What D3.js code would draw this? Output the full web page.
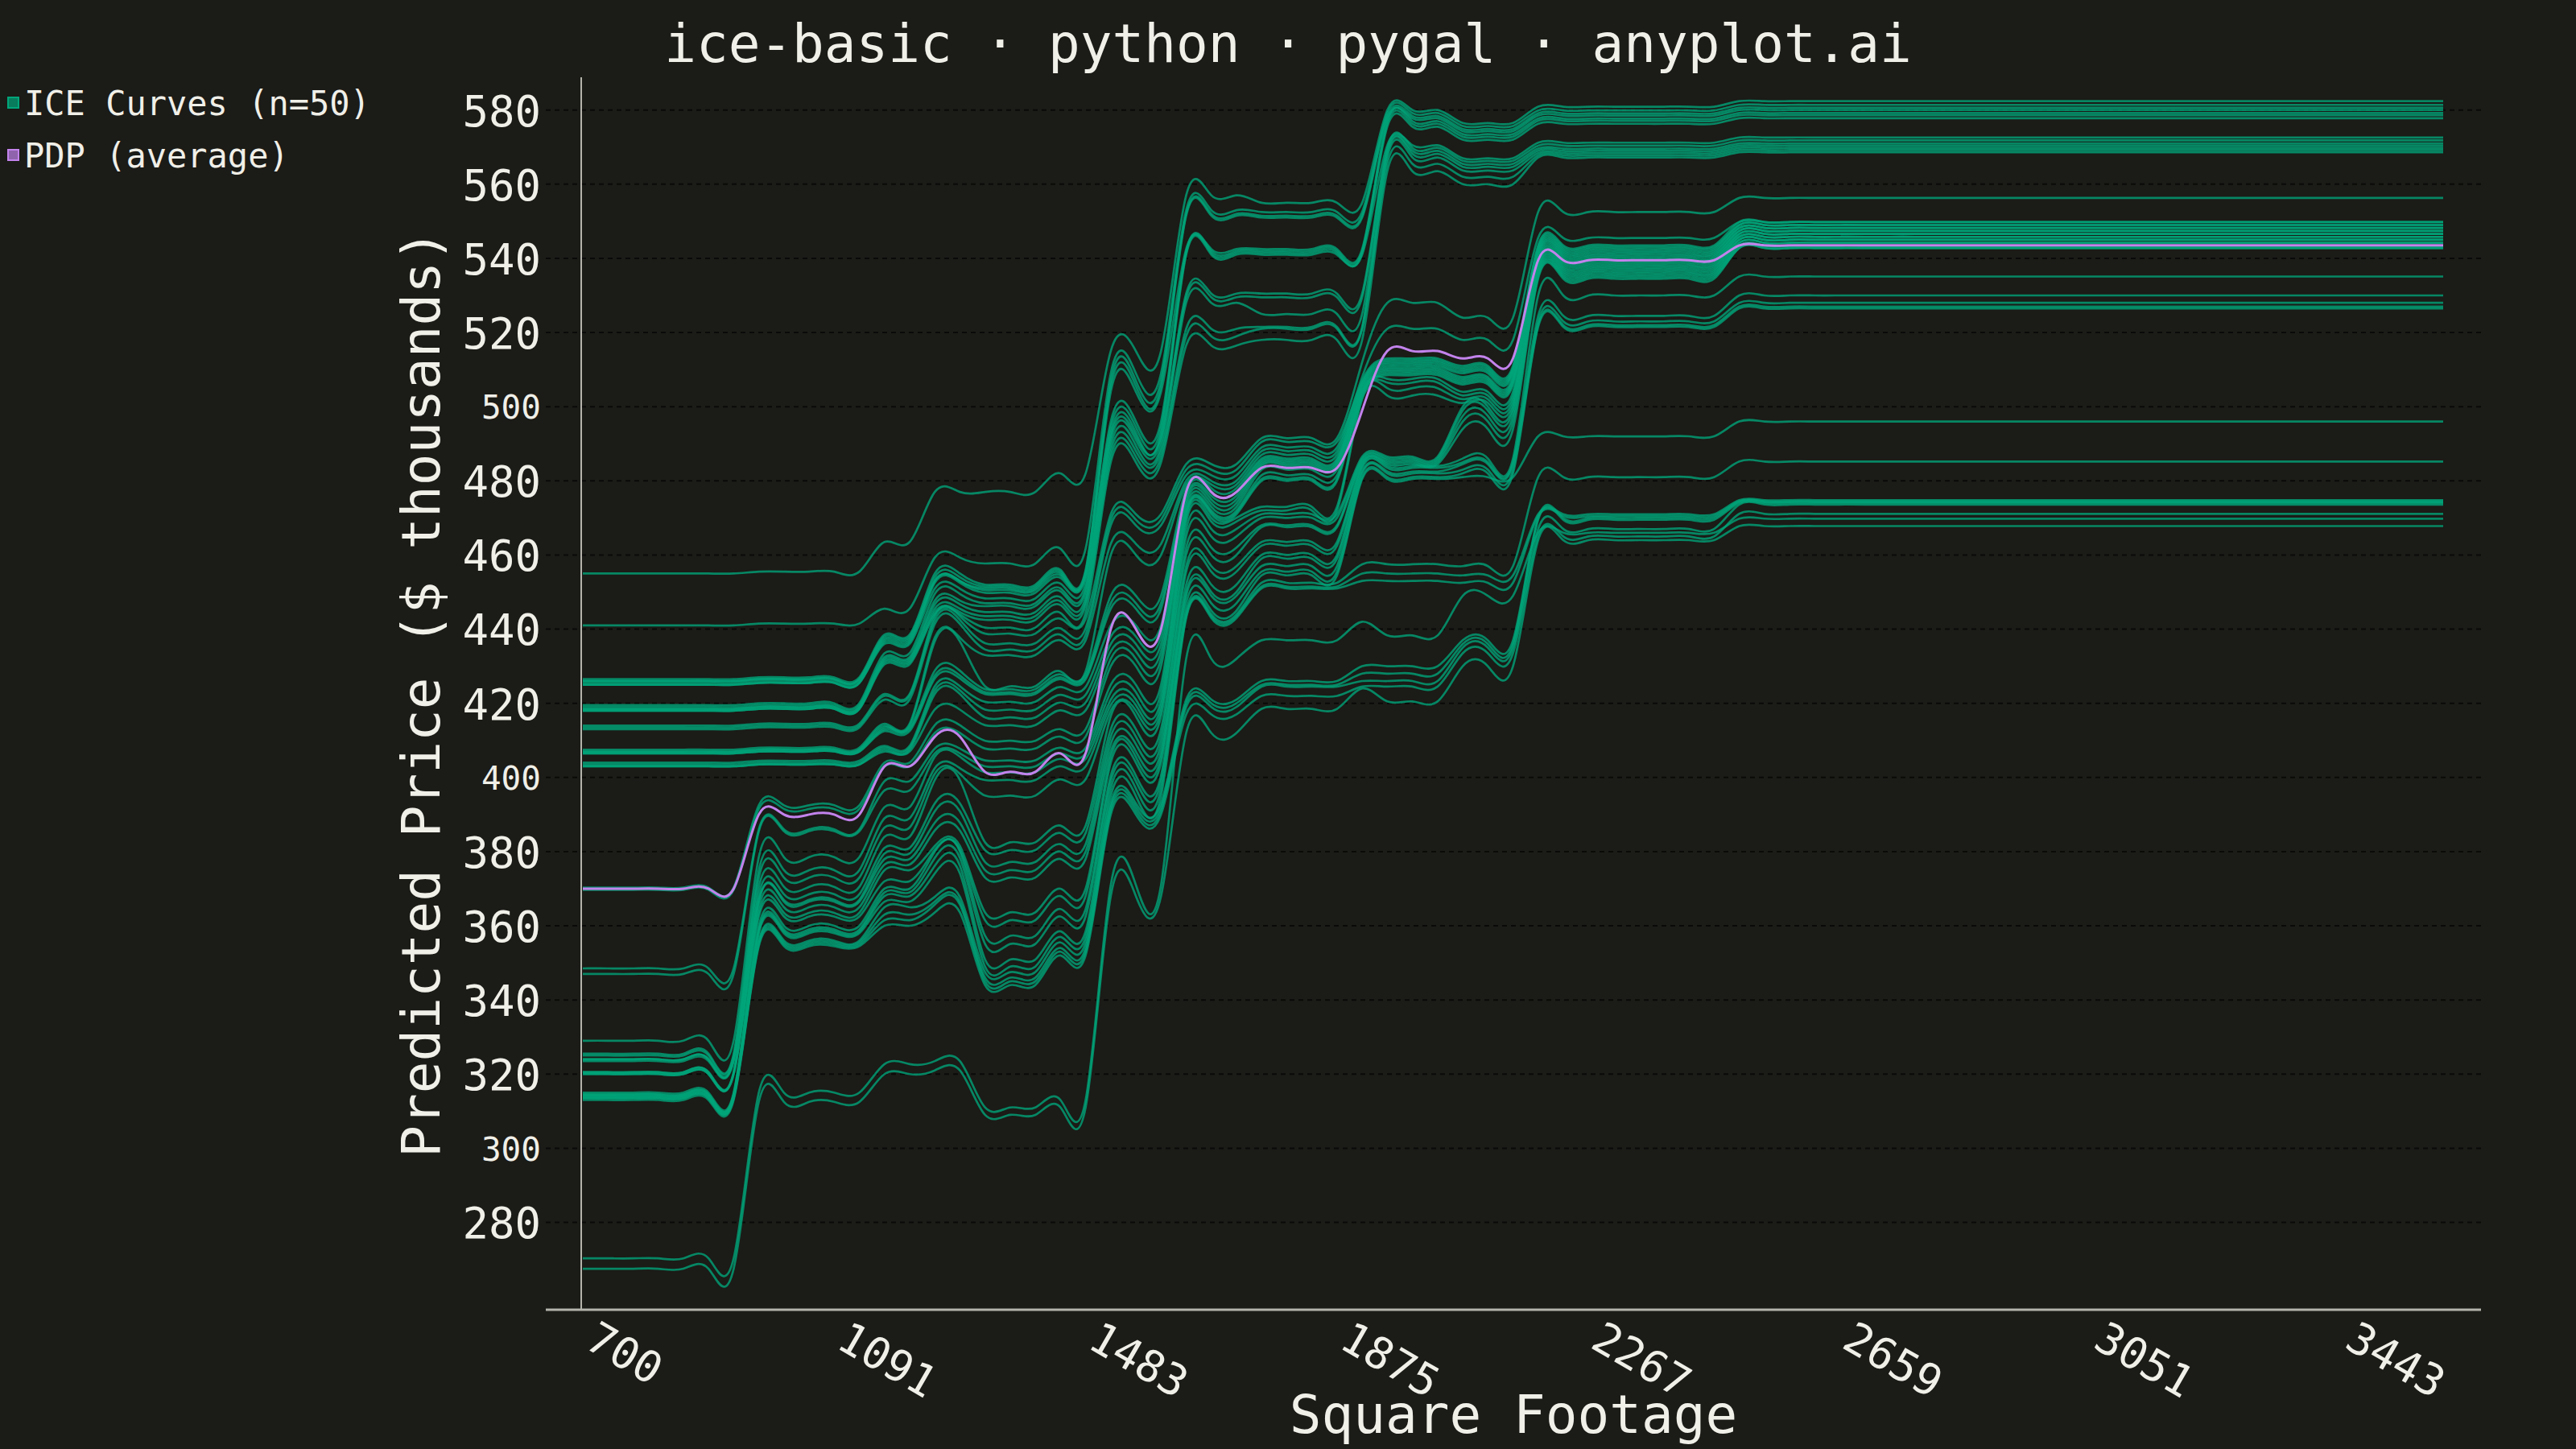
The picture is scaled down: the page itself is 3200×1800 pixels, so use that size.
<!DOCTYPE html>
<html>
<head>
  <meta charset="utf-8">
  <title>ice-basic · python · pygal · anyplot.ai</title>
  <script src="https://cdn.jsdelivr.net/npm/d3@7/dist/d3.min.js"></script>
  <style>
    html, body { margin: 0; padding: 0; background: #1b1b17; }
    svg { display: block; }
  </style>
</head>
<body>
  <svg width="3200" height="1800"></svg>
  <script>
    // evaluation grid: 75 square-footage points (700 .. 3600)
    const nGrid = 75;
    // first grid index of each flat segment of the tree model's ICE output
    const segStart = [0, 7, 12, 14, 16, 19, 21, 24, 27, 31, 32, 35, 38, 46];

    const xTickIndex = [0, 10, 20, 30, 40, 50, 60, 70];
    const xTickLabels = ['700', '1091', '1483', '1875', '2267', '2659', '3051', '3443'];
    const yTicks = [280, 300, 320, 340, 360, 380, 400, 420, 440, 460, 480, 500, 520, 540, 560, 580];
    const ySmallTicks = [300, 400, 500];

    const legendLabels = ['ICE Curves (n=50)', 'PDP (average)'];

    // predicted price ($ thousands) of each ICE curve, one value per segment
    const iceLevels = [
      [455, 455.5, 463.5, 477, 477, 482, 515, 557, 555, 555, 580, 576.5, 580.9, 582.4],
      [441, 441.5, 445.5, 459.3, 457.7, 461.7, 509, 553, 552.5, 552.5, 579.2, 575.7, 579.9, 581.4],
      [426.5, 427, 438.5, 455, 452, 456, 507, 552, 551.5, 551.5, 578.4, 574.9, 579.1, 580.6],
      [426, 426.5, 438, 454, 451.5, 455.5, 505.5, 551.5, 551, 551, 577.8, 574.3, 578.5, 580.0],
      [426, 426.5, 437.5, 453, 451, 455, 504, 542.5, 542.5, 542.5, 577, 573.5, 577.7, 579.2],
      [425.5, 426, 437, 453, 450.5, 454.5, 496, 542, 542, 542, 576.3, 572.8, 577.1, 578.6],
      [425, 425.5, 436.5, 452.5, 449.8, 453.8, 494.5, 541.5, 541.5, 541.5, 575.5, 572, 576.3, 577.8],
      [425, 425.5, 436, 450.9, 448.3, 452.3, 493, 541, 541, 541, 570.5, 567, 571.2, 572.6],
      [419.5, 420, 433.5, 449.5, 447, 451, 492, 530.5, 530.5, 530.5, 569.8, 566.3, 570.4, 571.8],
      [419, 419.5, 432.5, 447.7, 446.2, 450.2, 491, 529.5, 529.5, 529.5, 569, 565.5, 569.6, 571.0],
      [418.5, 419, 432, 446.7, 444.6, 448.6, 489.5, 528, 525, 525, 568.2, 564.7, 569, 570.4],
      [418.5, 419, 431.5, 445.5, 443.5, 447.5, 488, 521, 521.5, 521.5, 567.2, 563.7, 568.4, 569.8],
      [418, 418.5, 431, 444.6, 442.5, 446.5, 486.5, 519, 521, 521, 565.5, 562, 567.8, 569.2],
      [418, 418.5, 430.5, 444, 440.4, 444.4, 485, 516.5, 518, 518, 563.5, 560, 567.2, 568.6],
      [414, 414.5, 422.5, 443.5, 438.8, 442.8, 471, 484.5, 491.5, 512, 528, 524, 552.5, 556.3],
      [413.5, 414, 422, 442.5, 436.2, 440.2, 469.5, 483, 490.5, 508, 521, 518, 545.5, 549.8],
      [413, 413.5, 421, 441.4, 434.5, 438.5, 468, 481.5, 489, 507, 513, 511, 543.5, 549.8],
      [407.5, 408, 414.5, 437.7, 433, 437, 463, 480, 488, 506.5, 512.5, 510.5, 543, 549.0],
      [407, 407.5, 414, 436.7, 424.6, 428.6, 460, 479, 487, 506, 512, 510, 542.5, 549.0],
      [407, 407.5, 413.5, 428.8, 423.8, 427.8, 449, 478, 486, 505.5, 511.5, 509.5, 542, 548.2],
      [406.5, 407, 413, 427.5, 423, 427, 447, 477, 485.5, 505, 511, 509, 541.5, 548.2],
      [406.5, 407, 412.5, 426.7, 422.5, 426.5, 445.5, 476, 485, 504.5, 510.5, 508, 541, 547.4],
      [404, 404.5, 408.5, 424.6, 420.4, 424.4, 441, 475, 484.5, 504, 510, 507.5, 540.5, 547.4],
      [403.5, 404, 408, 423.5, 418.3, 422.3, 438, 474, 484, 503.5, 509.5, 507, 540, 546.6],
      [403, 403.5, 407.5, 422.5, 416.2, 420.2, 436, 473, 483, 503, 509, 506.5, 539.5, 546.6],
      [403, 403.5, 407, 418.3, 414.1, 418.1, 434, 472, 481.5, 502.5, 508.5, 506, 539, 545.8],
      [370.3, 392.5, 404, 414.1, 409.9, 413, 432, 471.5, 480.5, 504, 507.5, 504, 538.5, 545.8],
      [369.7, 391.5, 403, 412, 407.8, 411, 430, 471, 480, 503.5, 506.5, 503, 538, 545.0],
      [348.5, 386, 399, 407.8, 404.6, 408, 425, 470, 473, 503, 505, 502, 537.5, 545.0],
      [347, 385.5, 396.5, 406.5, 403, 406.5, 423, 469, 472, 502, 503, 501, 537, 544.2],
      [329, 378.5, 392, 405.6, 401.4, 405, 421, 467, 471, 486.5, 486.5, 500, 536.5, 544.2],
      [325.5, 375, 389, 402.5, 399.3, 403, 419.5, 465, 470, 486, 486, 499, 536, 543.4],
      [325, 373, 386.5, 401, 395.1, 399.5, 418, 462, 468, 485.5, 485.5, 497.5, 535.5, 543.4],
      [324, 370.5, 384, 399.3, 382.5, 387, 416.5, 460, 467.5, 485, 485, 496, 535, 542.8],
      [324, 368.5, 381, 393, 380.4, 385, 413, 457, 463.5, 484.5, 484.5, 494, 534.5, 542.8],
      [323.5, 367, 379.5, 390.9, 377.2, 382, 411, 455.5, 462.5, 484, 484, 486, 530, 535.1],
      [320.5, 366.5, 378, 387.8, 375, 380, 409, 452, 460, 483.5, 483.5, 485, 524.5, 530],
      [320.5, 365, 376.5, 385.7, 373, 378, 407, 450, 459, 482.5, 482.5, 484.5, 523, 528],
      [320, 363.5, 375, 381.5, 363.6, 370, 405.5, 449, 457, 482, 482, 483, 522, 527],
      [320, 362.5, 372, 380.5, 361.5, 368, 404, 447, 455.5, 481, 481, 482, 521.5, 526.5],
      [315, 360, 370, 380, 357.3, 364.5, 400.5, 445, 454.5, 480.5, 480.5, 481, 492, 496],
      [314.5, 359, 369, 378.3, 355.1, 362.5, 399, 444, 452.5, 457.5, 457.5, 457, 481, 485.2],
      [314.5, 358.5, 368, 376.2, 350.9, 358.5, 397, 443.5, 451.5, 455, 455, 454.5, 471, 474.8],
      [314, 358, 366.5, 374.1, 349, 357, 395, 443, 451, 453, 453, 452.5, 470.5, 474.5],
      [314, 356, 365, 367.8, 347.5, 355.5, 393, 421, 426, 430, 430, 437, 470, 474.3],
      [313.5, 355.5, 363, 366.5, 346, 354, 392, 420, 425, 428, 428, 436, 469.5, 474.0],
      [313.5, 355, 361.5, 365.7, 345, 353, 391, 419, 424.5, 426, 426, 435, 467, 473.6],
      [313, 354.5, 360, 363.6, 344, 352, 390, 417, 422, 424.5, 424.5, 433.5, 465, 471.1],
      [270.3, 315, 322.7, 323.5, 311, 313, 371, 432, 437, 442, 438.3, 449, 466, 469.8],
      [267.5, 312.5, 320, 321, 309, 311, 368, 412, 418.5, 424, 420.5, 430, 464, 467.8]
    ];

    // partial dependence (average of the ICE curves), per segment
    const pdpLevels = [370, 390, 403, 411, 401.5, 406.5, 440, 477, 483.5, 499, 515, 513, 539.5, 543.5];

    const bg = '#1b1b17';
    const ink = '#f0efe8';
    const iceColor = '#00a57a';
    const pdpColor = '#c283ec';
    const font = '"DejaVu Sans Mono", "Liberation Mono", monospace';

    const svg = d3.select('svg');
    const width = +svg.attr('width');
    const height = +svg.attr('height');

    svg.append('rect').attr('width', width).attr('height', height).attr('fill', bg);

    // spread the segment levels over the grid points
    function expand(levels) {
      const out = [];
      segStart.forEach((start, s) => {
        const end = s + 1 < segStart.length ? segStart[s + 1] : nGrid;
        for (let i = start; i < end; i++) out.push(levels[s]);
      });
      return out;
    }

    const x = d3.scaleLinear().domain([0, nGrid - 1]).range([724, 3035]);
    const y = d3.scaleLinear().domain([280, 580]).range([1518.5, 136.7]);

    const plotLeft = 722, plotRight = 3082, plotTop = 96, plotBottom = 1627;

    // horizontal dashed guides
    svg.append('g')
      .selectAll('line')
      .data(yTicks)
      .enter()
      .append('line')
      .attr('x1', 678)
      .attr('x2', plotRight)
      .attr('y1', d => y(d))
      .attr('y2', d => y(d))
      .attr('stroke', '#000')
      .attr('stroke-opacity', 0.6)
      .attr('stroke-width', 2)
      .attr('stroke-dasharray', '6,5');

    const line = d3.line()
      .x((d, i) => x(i))
      .y(d => y(d))
      .curve(d3.curveNatural);

    svg.append('g')
      .selectAll('path')
      .data(iceLevels.map(expand))
      .enter()
      .append('path')
      .attr('d', line)
      .attr('fill', 'none')
      .attr('stroke', iceColor)
      .attr('stroke-opacity', 0.78)
      .attr('stroke-width', 2.7);

    svg.append('path')
      .datum(expand(pdpLevels))
      .attr('d', line)
      .attr('fill', 'none')
      .attr('stroke', pdpColor)
      .attr('stroke-width', 3);

    // axis lines
    svg.append('line')
      .attr('x1', plotLeft).attr('x2', plotLeft)
      .attr('y1', plotTop).attr('y2', plotBottom)
      .attr('stroke', '#b4b4ac').attr('stroke-width', 2);
    svg.append('line')
      .attr('x1', 678).attr('x2', plotRight)
      .attr('y1', plotBottom).attr('y2', plotBottom)
      .attr('stroke', '#b4b4ac').attr('stroke-width', 3);

    // y axis labels
    const yAxis = svg.append('g')
      .attr('transform', `translate(${plotLeft},0)`)
      .call(d3.axisLeft(y).tickValues(yTicks).tickSize(0).tickPadding(50));
    yAxis.select('.domain').remove();
    yAxis.selectAll('text')
      .attr('fill', ink)
      .attr('font-family', font)
      .attr('font-size', d => (ySmallTicks.includes(d) ? 41 : 54))
      .attr('dy', '0.36em');

    // x axis labels, rotated
    const xAxis = svg.append('g')
      .attr('transform', `translate(0,${plotBottom})`)
      .call(d3.axisBottom(x).tickValues(xTickIndex).tickSize(0)
        .tickFormat((d, i) => xTickLabels[i]));
    xAxis.select('.domain').remove();
    xAxis.selectAll('text')
      .attr('fill', ink)
      .attr('font-family', font)
      .attr('font-size', 54)
      .attr('text-anchor', 'start')
      .attr('x', 0)
      .attr('y', 46)
      .attr('dy', 0)
      .attr('transform', 'rotate(30,0,46)');

    // axis titles
    svg.append('text')
      .attr('x', (678 + plotRight) / 2)
      .attr('y', 1780)
      .attr('text-anchor', 'middle')
      .attr('fill', ink)
      .attr('font-family', font)
      .attr('font-size', 66)
      .text('Square Footage');

    svg.append('text')
      .attr('transform', `translate(546,${(plotTop + plotBottom) / 2}) rotate(-90)`)
      .attr('text-anchor', 'middle')
      .attr('fill', ink)
      .attr('font-family', font)
      .attr('font-size', 66)
      .text('Predicted Price ($ thousands)');

    // title
    svg.append('text')
      .attr('x', 1600)
      .attr('y', 77)
      .attr('text-anchor', 'middle')
      .attr('fill', ink)
      .attr('font-family', font)
      .attr('font-size', 66)
      .text('ice-basic · python · pygal · anyplot.ai');

    // legend
    const legend = svg.append('g')
      .selectAll('g')
      .data(legendLabels)
      .enter()
      .append('g')
      .attr('transform', (d, i) => `translate(0,${i * 65})`);

    legend.append('rect')
      .attr('x', 10).attr('y', 121)
      .attr('width', 13).attr('height', 13)
      .attr('fill', (d, i) => (i === 0 ? iceColor : pdpColor))
      .attr('fill-opacity', 0.7)
      .attr('stroke', (d, i) => (i === 0 ? iceColor : pdpColor))
      .attr('stroke-width', 2);

    legend.append('text')
      .attr('x', 30).attr('y', 143)
      .attr('fill', ink)
      .attr('font-family', font)
      .attr('font-size', 42)
      .text(d => d);
  </script>
</body>
</html>
